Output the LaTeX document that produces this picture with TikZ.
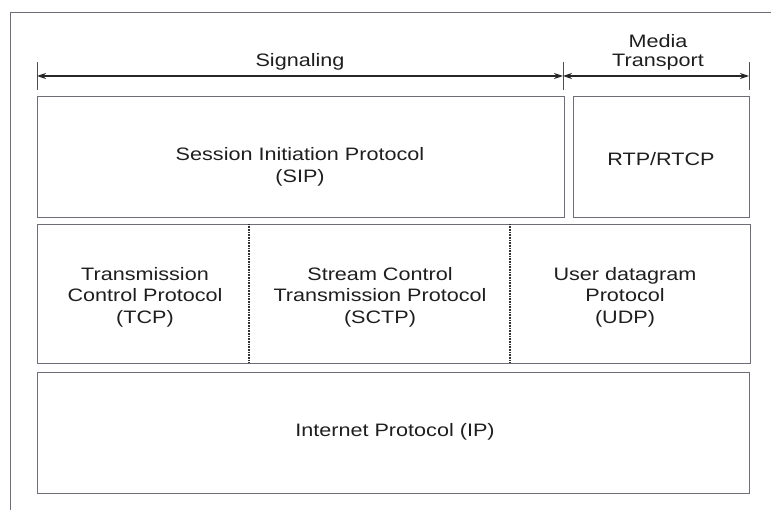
\documentclass[tikz,border=0pt]{standalone}
\usepackage{fontspec}
\setmainfont{Liberation Sans}[FakeStretch=1.2]
\usetikzlibrary{arrows.meta}
\definecolor{boxline}{HTML}{6E6E78}
\definecolor{txt}{HTML}{1E1E1E}
\tikzset{
  boxrect/.style={draw=boxline, line width=0.9pt, inner sep=0pt},
  lbl/.style={text=txt, align=center, font=\fontsize{18}{21.5}\selectfont, inner sep=0pt},
  dimline/.style={draw=black!85, line width=1.3pt, {Stealth[length=9pt,width=6pt]}-{Stealth[length=9pt,width=6pt]}},
  tick/.style={draw=black!70, line width=0.9pt},
  divider/.style={draw=black!80, line width=1.2pt, dash pattern=on 0.9pt off 0.7pt},
  frameline/.style={draw=boxline, line width=0.9pt}
}
\begin{document}
\begin{tikzpicture}[x=1pt,y=-1pt]
\useasboundingbox (0,0) rectangle (771,510);
% outer frame (top and left only)
\coordinate (fTL) at (10,12);
\coordinate (fTR) at (771,12);
\coordinate (fBL) at (10,510);
\draw[frameline] (fTR) -- (fTL) -- (fBL);

% ticks
\coordinate (t1a) at (37,62);  \coordinate (t1b) at (37,90);
\coordinate (t2a) at (563,62); \coordinate (t2b) at (563,90);
\coordinate (t3a) at (749,62); \coordinate (t3b) at (749,90);
\draw[tick] (t1a) -- (t1b);
\draw[tick] (t2a) -- (t2b);
\draw[tick] (t3a) -- (t3b);
\coordinate (aL) at (37,76);
\coordinate (aM) at (563,76);
\coordinate (aR) at (749,76);
\draw[dimline] (aL) -- (aM);
\draw[dimline] (aM) -- (aR);
\node[lbl] (sig) at (300,62) {Signaling};
\node[lbl, font=\fontsize{18}{19}\selectfont] (media) at (658,52) {Media\\Transport};

% top row
\node[boxrect, minimum width=527pt, minimum height=121pt] (sipbox) at (300.5,156.5) {};
\node[boxrect, minimum width=176pt, minimum height=121pt] (rtpbox) at (661,156.5) {};
\node[lbl] (sip) at (300,167) {Session Initiation Protocol\\(SIP)};
\node[lbl] (rtp) at (661,159) {RTP/RTCP};

% middle row
\node[boxrect, minimum width=713pt, minimum height=139pt] (midbox) at (393.5,293.5) {};
\coordinate (d1a) at (249,224); \coordinate (d1b) at (249,363);
\coordinate (d2a) at (510,224); \coordinate (d2b) at (510,363);
\draw[divider] (d1a) -- (d1b);
\draw[divider] (d2a) -- (d2b);
\node[lbl] (tcp) at (145,297) {Transmission\\Control Protocol\\(TCP)};
\node[lbl] (sctp) at (380,297) {Stream Control\\Transmission Protocol\\(SCTP)};
\node[lbl] (udp) at (625,297) {User datagram\\Protocol\\(UDP)};

% bottom row
\node[boxrect, minimum width=712pt, minimum height=121pt] (ipbox) at (393.5,432.5) {};
\node[lbl] (ip) at (395,432) {Internet Protocol (IP)};
\end{tikzpicture}
\end{document}
